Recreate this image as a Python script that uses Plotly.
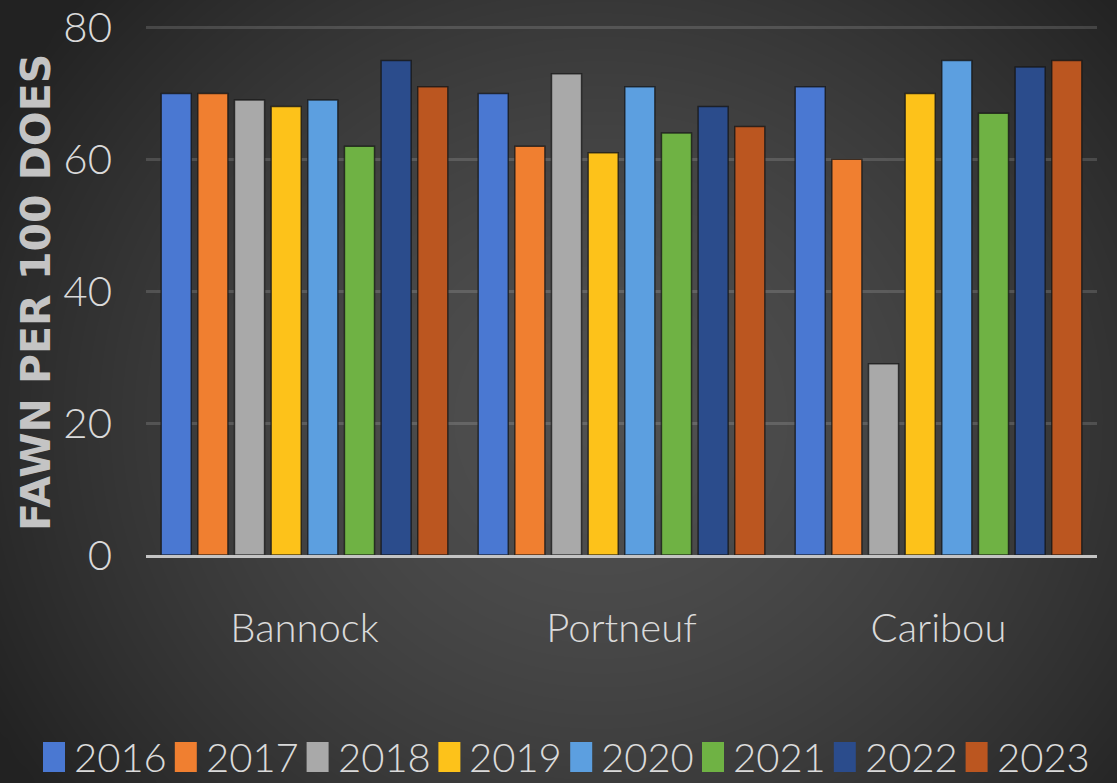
import numpy as np
import plotly.graph_objects as go

# Fawn-to-doe ratios by management unit and survey year
units = ["Bannock", "Portneuf", "Caribou"]
years = ["2016", "2017", "2018", "2019", "2020", "2021", "2022", "2023"]
y2016 = [70, 70, 71]
y2017 = [70, 62, 60]
y2018 = [69, 73, 29]
y2019 = [68, 61, 70]
y2020 = [69, 71, 75]
y2021 = [62, 64, 67]
y2022 = [75, 68, 74]
y2023 = [71, 65, 75]
series = [y2016, y2017, y2018, y2019, y2020, y2021, y2022, y2023]
colors = ["#4a78d2", "#f07f30", "#a9a9a9", "#fdc21a",
          "#5c9fe0", "#6fb244", "#2b4c8c", "#bb5620"]
y_ticks = [0, 20, 40, 60, 80]

W, H = 1117, 783
FONT = "Lato, Roboto, sans-serif"
TEXT = "#dadada"

fig = go.Figure()

# soft radial backdrop (styling only) on a hidden full-page subplot
gx = np.linspace(-30, W + 30, 64)
gy = np.linspace(-30, H + 30, 48)
GX, GY = np.meshgrid(gx, gy)
d = np.sqrt(((GX - 600) / 650) ** 2 + ((GY - 420) / 600) ** 2)
shade = np.clip(80 - 42 * d ** 1.5, 34, 80)
fig.add_trace(go.Heatmap(
    x=gx, y=gy, z=shade, zmin=0, zmax=255, zsmooth="best",
    colorscale=[[0, "rgb(0,0,0)"], [1, "rgb(255,255,255)"]],
    showscale=False, hoverinfo="skip", xaxis="x", yaxis="y"))

for name, vals, col in zip(years, series, colors):
    fig.add_trace(go.Bar(
        x=units, y=vals, name=name, xaxis="x2", yaxis="y2",
        marker=dict(color=col, line=dict(color="rgba(20,20,20,0.75)", width=1.5)),
        showlegend=False))

# plot area: 0 sits at y=555 px, 80 at y=27.5 px
x0p, x1p = 146 / W, 1097 / W
ymax = 80.5
px_per_unit = (555 - 27.5) / 80
y0p = 1 - 555 / H
y1p = 1 - (555 - ymax * px_per_unit) / H

fig.update_layout(
    width=W, height=H, autosize=False,
    margin=dict(l=0, r=0, t=0, b=0, autoexpand=False),
    paper_bgcolor="#2e2e2e", plot_bgcolor="rgba(0,0,0,0)",
    barmode="group", bargap=0.075, bargroupgap=0.18,
    xaxis=dict(domain=[0, 1], range=[0, W], visible=False,
               fixedrange=True, automargin=False),
    yaxis=dict(domain=[0, 1], range=[H, 0], visible=False,
               fixedrange=True, automargin=False),
    xaxis2=dict(domain=[x0p, x1p], anchor="y2", showgrid=False,
                automargin=False,
                showline=True, linecolor="#c4c4c4", linewidth=3,
                ticks="", ticklabelstandoff=36,
                tickfont=dict(family=FONT, size=40, color=TEXT, weight=300)),
    yaxis2=dict(domain=[y0p, y1p], anchor="x2", range=[0, ymax],
                automargin=False, ticklabeloverflow="allow",
                tickvals=y_ticks, showgrid=True,
                gridcolor="rgba(255,255,255,0.14)", gridwidth=2.5,
                zeroline=False, showline=False, ticks="",
                ticklabelstandoff=33,
                tickfont=dict(family=FONT, size=42, color=TEXT, weight=300)),
    showlegend=False,
)

# axis title
fig.add_annotation(
    text="FAWN PER 100 DOES", textangle=-90, showarrow=False,
    xref="paper", yref="paper", x=36 / W, y=1 - 293 / H,
    xanchor="center", yanchor="middle",
    font=dict(family="DejaVu Sans", size=41, color="#c4c4c4", weight="bold"))

# legend row: colour swatch followed by year label
for i, (name, col) in enumerate(zip(years, colors)):
    sx = 43 + 131.8 * i
    fig.add_shape(type="rect", xref="paper", yref="paper",
                  x0=sx / W, x1=(sx + 22) / W,
                  y0=1 - 772 / H, y1=1 - 742 / H,
                  fillcolor=col, line=dict(width=0))
    fig.add_annotation(
        text=name, showarrow=False, xref="paper", yref="paper",
        x=(sx + 29) / W, y=1 - 757 / H, xanchor="left", yanchor="middle",
        font=dict(family=FONT, size=40, color=TEXT, weight=300))

fig.write_html("out.html")
